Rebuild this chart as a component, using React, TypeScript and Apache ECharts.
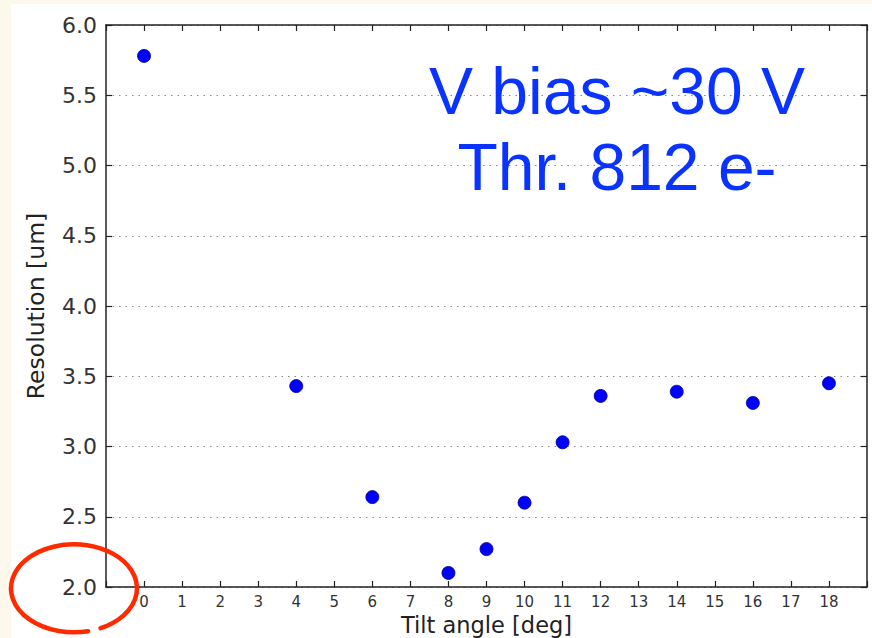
import React, { useEffect, useRef } from "react";
import * as echarts from "echarts";

const tiltAngles = [0, 4, 6, 8, 9, 10, 11, 12, 14, 16, 18];
const resolution = [5.78, 3.43, 2.64, 2.10, 2.27, 2.60, 3.03, 3.36, 3.39, 3.31, 3.45];
const annotationLines = ["V bias ~30 V", "Thr. 812 e-"];
const xTitle = "Tilt angle [deg]";
const yTitle = "Resolution [um]";

const ELLIPSE_D = "M100.6 628.2 A63 44 0 1 0 88.1 631.2";

export default function App() {
  const ref = useRef<HTMLDivElement>(null);
  useEffect(() => {
    if (!ref.current) return;
    try {
      echarts.graphic.registerShape("redEllipse", echarts.graphic.extendPath(ELLIPSE_D, {}) as any);
    } catch (e) {}
    const chart = echarts.init(ref.current, null, { renderer: "svg" });
    const font = "DejaVu Sans";
    const axisLine = { show: true, onZero: false, lineStyle: { color: "#222", width: 1.5 } };
    const tick = { show: true, inside: true, length: 6, lineStyle: { color: "#222", width: 1.2 } };
    chart.setOption({
      animation: false,
      backgroundColor: "#ffffff",
      grid: { left: 106, top: 25, right: 5, bottom: 51, containLabel: false, outerBoundsMode: "none" },
      xAxis: [
        {
          type: "value", position: "bottom", min: -1, max: 19, interval: 1,
          axisLine, axisTick: tick,
          axisLabel: {
            fontSize: 15, color: "#333", fontFamily: font, margin: 7,
            formatter: (v: number) => (v < 0 || v > 18 ? "" : String(v)),
          },
          splitLine: { show: false },
          name: xTitle, nameLocation: "middle", nameGap: 23,
          nameTextStyle: { fontSize: 22.5, color: "#222", fontFamily: font },
        },
        {
          type: "value", position: "top", min: -1, max: 19, interval: 1,
          axisLine, axisTick: tick, axisLabel: { show: false }, splitLine: { show: false },
        },
      ],
      yAxis: [
        {
          type: "value", position: "left", min: 2, max: 6, interval: 0.5,
          axisLine, axisTick: tick,
          axisLabel: {
            fontSize: 22, color: "#333", fontFamily: font, margin: 9,
            formatter: (v: number) => v.toFixed(1),
          },
          splitLine: { show: true, lineStyle: { type: [1.5, 5], color: "#888", width: 1.2 } },
          name: yTitle, nameLocation: "middle", nameGap: 58,
          nameTextStyle: { fontSize: 23.5, color: "#222", fontFamily: font },
        },
        {
          type: "value", position: "right", min: 2, max: 6, interval: 0.5,
          axisLine, axisTick: tick, axisLabel: { show: false }, splitLine: { show: false },
        },
      ],
      series: [
        {
          type: "scatter",
          data: tiltAngles.map((x, i) => [x, resolution[i]]),
          symbol: "circle",
          symbolSize: 13,
          itemStyle: { color: "#0000ff", borderColor: "#00008b", borderWidth: 0.8, opacity: 1 },
          z: 5,
        },
      ],
      graphic: {
        elements: [
          { type: "rect", shape: { x: 0, y: 0, width: 872, height: 4 }, style: { fill: "#fdf8ec" }, silent: true },
          { type: "rect", shape: { x: 0, y: 0, width: 11, height: 638 }, style: { fill: "#fdf8ec" }, silent: true },
          {
            type: "text", x: 617, y: 91, z: 10,
            style: { text: annotationLines[0], fontSize: 66, fontFamily: "Liberation Sans", fill: "#0a33ff", textAlign: "center", textVerticalAlign: "middle" },
          },
          {
            type: "text", x: 617, y: 167, z: 10,
            style: { text: annotationLines[1], fontSize: 66, fontFamily: "Liberation Sans", fill: "#0a33ff", textAlign: "center", textVerticalAlign: "middle" },
          },
          {
            type: "redEllipse", x: 0, y: 0, z: 20,
            style: { fill: "none", stroke: "#ff2a00", lineWidth: 4.5, lineCap: "round" },
          },
        ],
      },
    });
    return () => chart.dispose();
  }, []);
  return <div ref={ref} style={{ position: "absolute", left: 0, top: 0, width: 872, height: 638 }} />;
}
